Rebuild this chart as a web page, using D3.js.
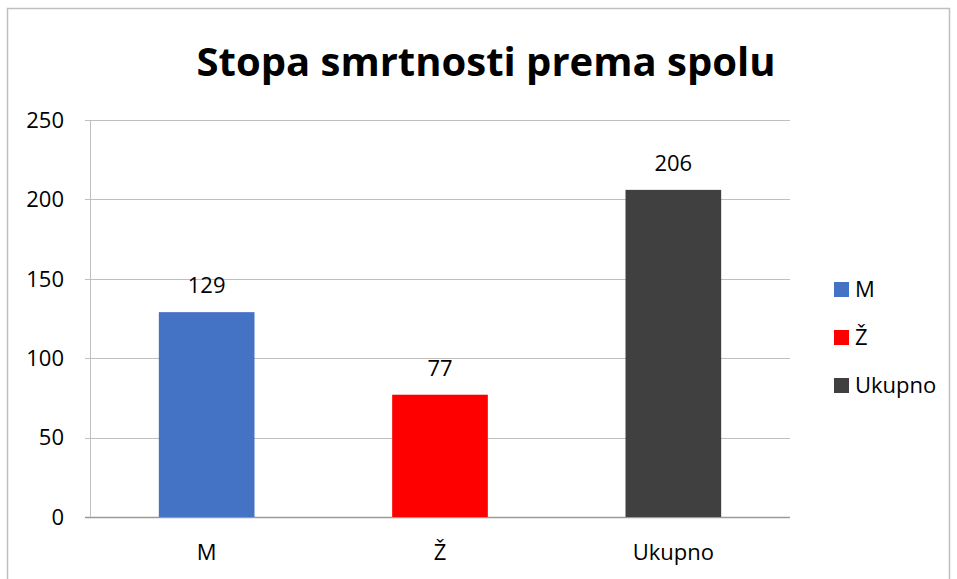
<!DOCTYPE html>
<html>
<head>
<meta charset="utf-8">
<script src="https://cdn.jsdelivr.net/npm/d3@7.9.0/dist/d3.min.js"></script>
<style>
  body { margin: 0; background: #fff; }
  svg { display: block; font-family: "Open Sans", sans-serif; }
</style>
</head>
<body>
<div id="chart"></div>
<script>
const categories = ['M', 'Ž', 'Ukupno'];
const values = [129, 77, 206];
const colors = ['#4472C4', '#FF0000', '#404040'];
const yTicks = [0, 50, 100, 150, 200, 250];
const title = 'Stopa smrtnosti prema spolu';

const width = 957;
const height = 579;
const margin = { top: 120, right: 167, bottom: 62, left: 90 };
const fs = 22;

const svg = d3.select('#chart')
  .append('svg')
  .attr('width', width)
  .attr('height', height);

// outer frame
svg.append('rect')
  .attr('x', 7.5).attr('y', 8.5)
  .attr('width', 942).attr('height', 620)
  .attr('fill', 'none')
  .attr('stroke', '#BFBFBF')
  .attr('stroke-width', 1.5);

svg.append('text')
  .attr('x', 486).attr('y', 76)
  .attr('text-anchor', 'middle')
  .attr('font-size', 40)
  .attr('font-weight', 'bold')
  .attr('fill', '#000')
  .text(title);

const x = d3.scaleBand()
  .domain(categories)
  .range([margin.left, width - margin.right])
  .paddingInner(0.59)
  .paddingOuter(0.295);

const y = d3.scaleLinear()
  .domain([0, 250])
  .range([height - margin.bottom, margin.top]);

// gridlines
svg.append('g')
  .selectAll('line')
  .data(yTicks)
  .join('line')
  .attr('x1', margin.left - 5)
  .attr('x2', width - margin.right)
  .attr('y1', (d) => Math.round(y(d)) + 0.5)
  .attr('y2', (d) => Math.round(y(d)) + 0.5)
  .attr('stroke', (d) => (d === 0 ? '#9A9A9A' : '#BFBFBF'))
  .attr('stroke-width', (d) => (d === 0 ? 1.5 : 1));

// y axis line
svg.append('line')
  .attr('x1', margin.left + 0.5).attr('x2', margin.left + 0.5)
  .attr('y1', y(250)).attr('y2', y(0))
  .attr('stroke', '#BFBFBF');

// y tick labels
svg.append('g')
  .selectAll('text')
  .data(yTicks)
  .join('text')
  .attr('x', 64)
  .attr('y', (d) => y(d))
  .attr('dy', '0.35em')
  .attr('text-anchor', 'end')
  .attr('font-size', fs)
  .attr('fill', '#000')
  .text((d) => d);

// bars
svg.append('g')
  .selectAll('rect')
  .data(values)
  .join('rect')
  .attr('x', (d, i) => x(categories[i]))
  .attr('y', (d) => y(d))
  .attr('width', x.bandwidth())
  .attr('height', (d) => y(0) - y(d))
  .attr('fill', (d, i) => colors[i]);

// value labels
svg.append('g')
  .selectAll('text')
  .data(values)
  .join('text')
  .attr('x', (d, i) => x(categories[i]) + x.bandwidth() / 2)
  .attr('y', (d) => y(d) - 19)
  .attr('text-anchor', 'middle')
  .attr('font-size', fs)
  .attr('fill', '#000')
  .text((d) => d);

// x labels
svg.append('g')
  .selectAll('text')
  .data(categories)
  .join('text')
  .attr('x', (d) => x(d) + x.bandwidth() / 2)
  .attr('y', 560)
  .attr('text-anchor', 'middle')
  .attr('font-size', fs)
  .attr('fill', '#000')
  .text((d) => d);

// legend
const legend = svg.append('g')
  .selectAll('g')
  .data(categories)
  .join('g')
  .attr('transform', (d, i) => `translate(834, ${289 + i * 48})`);

legend.append('rect')
  .attr('x', 0).attr('y', -7)
  .attr('width', 15).attr('height', 15)
  .attr('fill', (d, i) => colors[i]);

legend.append('text')
  .attr('x', 21)
  .attr('y', 0)
  .attr('dy', '0.35em')
  .attr('font-size', fs)
  .attr('fill', '#000')
  .text((d) => d);
</script>
</body>
</html>
